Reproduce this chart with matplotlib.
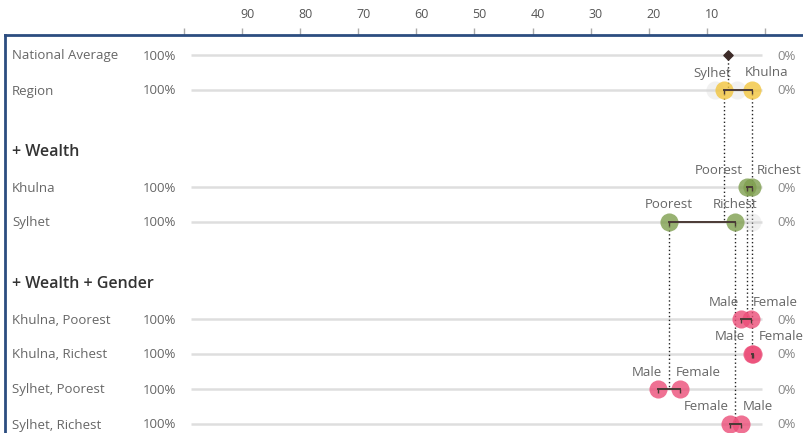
import matplotlib
matplotlib.use("Agg")
import matplotlib.pyplot as plt
from matplotlib.lines import Line2D
from matplotlib.transforms import ScaledTranslation

plt.rcParams['font.family'] = ['Open Sans', 'DejaVu Sans']

# ---- data (percent, axis runs 100 -> 0) ----
national_avg = 6.4

region_names = ["Sylhet", "Khulna"]
region_vals = [7.1, 2.3]

wealth_rows = ["Khulna", "Sylhet"]
wealth_names = ["Poorest", "Richest"]
wealth_vals = [[3.1, 2.2],
               [16.5, 5.2]]

gender_rows = ["Khulna, Poorest", "Khulna, Richest", "Sylhet, Poorest", "Sylhet, Richest"]
gender_names = [["Male", "Female"],
                ["Male", "Female"],
                ["Male", "Female"],
                ["Female", "Male"]]
gender_vals = [[4.1, 2.4],
               [2.3, 2.1],
               [18.5, 14.6],
               [6.0, 4.1]]

# faint leftover markers seen behind some rows
ghost_region = [8.6, 4.8]
ghost_sylhet_wealth = [2.2]

tick_vals = list(range(0, 101, 10))

# ---- colours ----
YELLOW = "#f2c53d"
GREEN = "#7f9f4f"
PINK = "#ec4d78"
DARK = "#3d2b28"
ROWLINE = "#dedede"
TXT = "#666666"
FRAME = "#2c4d80"

W, H = 804, 433
fig = plt.figure(figsize=(W / 100, H / 100), dpi=100)
x0, x1, top = 184, 765, 35
ax = fig.add_axes([x0 / W, 0, (x1 - x0) / W, (H - top) / H])
ax.set_xlim(100, 0)
ax.set_ylim(H, top)
for s in ax.spines.values():
    s.set_visible(False)
ax.set_yticks([])
ax.xaxis.tick_top()
ax.set_xticks(tick_vals)
ax.set_xticklabels(["" if v in (0, 100) else str(v) for v in tick_vals])
ax.tick_params(axis="x", direction="out", length=5, width=1, color="#aaaaaa",
               labelsize=9, labelcolor="#555555", pad=5)
shift = ScaledTranslation(5 / 100, 0, fig.dpi_scale_trans)
for lab in ax.get_xticklabels():
    lab.set_transform(lab.get_transform() + shift)

# frame (top + left)
fig.add_artist(Line2D([5 / W, 1], [1 - top / H, 1 - top / H], color=FRAME, lw=2))
fig.add_artist(Line2D([5 / W, 5 / W], [0, 1 - top / H], color=FRAME, lw=2))

# row layout (pixel rows)
y_nat, y_reg = 55, 90
y_wealth_head, y_wealth = 151, [187, 222]
y_gender_head, y_gender = 283, [319, 354, 389, 424]

row_names = ["National Average", "Region"] + wealth_rows + gender_rows
row_ys = [y_nat, y_reg] + y_wealth + y_gender

to_fig = lambda px, py: (px / W, 1 - py / H)

for name, y in zip(row_names, row_ys):
    ax.plot([98.8, 0.5], [y, y], color=ROWLINE, lw=1.8, zorder=1, solid_capstyle="butt")
    fig.text(*to_fig(12, y + 1), name, ha="left", va="center", fontsize=9.5, color=TXT)
    fig.text(*to_fig(176, y + 1), "100%", ha="right", va="center", fontsize=9.5, color=TXT)
    fig.text(*to_fig(777, y + 1), "0%", ha="left", va="center", fontsize=9.5, color="#888888")

for txt, y in [("+ Wealth", y_wealth_head), ("+ Wealth + Gender", y_gender_head)]:
    fig.text(*to_fig(12, y + 1), txt, ha="left", va="center", fontsize=11.5,
             fontweight="semibold", color="#333333")

# dotted drop lines from parent to child rows
def drop(v, ya, yb):
    ax.plot([v, v], [ya, yb], color="#222222", lw=1, ls=(0, (1, 1.8)), zorder=2)

drop(national_avg, y_nat, y_reg)
drop(region_vals[0], y_reg, y_wealth[1])
drop(region_vals[1], y_reg, y_wealth[0])
drop(wealth_vals[0][0], y_wealth[0], y_gender[0])
drop(wealth_vals[0][1], y_wealth[0], y_gender[1])
drop(wealth_vals[1][0], y_wealth[1], y_gender[2])
drop(wealth_vals[1][1], y_wealth[1], y_gender[3])

# ghosts
ax.scatter(ghost_region, [y_reg] * len(ghost_region), s=170, color="#d8d8d8",
           alpha=0.35, lw=0, zorder=2)
ax.scatter(ghost_sylhet_wealth, [y_wealth[1]] * len(ghost_sylhet_wealth), s=170,
           color="#d8d8d8", alpha=0.35, lw=0, zorder=2)

# national average diamond
ax.scatter([national_avg], [y_nat], marker="D", s=22, color=DARK, zorder=5)

renderer = fig.canvas.get_renderer()


def pair(vals, names, y, color):
    ax.scatter(vals, [y, y], s=170, color=color, alpha=0.8, lw=0, zorder=3)
    ax.plot(vals, [y, y], color="#4a3a36", lw=1.4, marker=3, ms=3, mew=1, zorder=4)
    # label the larger value (left side) first
    order = sorted(range(2), key=lambda i: -vals[i])
    lv, rv = vals[order[0]], vals[order[1]]
    ln, rn = names[order[0]], names[order[1]]
    ty = y - 17
    tl = ax.text(lv, ty, ln, ha="center", va="center", fontsize=9.5, color=TXT, zorder=6)
    tr = ax.text(rv, ty, rn, ha="center", va="center", fontsize=9.5, color=TXT, zorder=6)
    wl = tl.get_window_extent(renderer).width
    wr = tr.get_window_extent(renderer).width
    pl = ax.transData.transform((lv, ty))[0]
    pr = ax.transData.transform((rv, ty))[0]
    gap = 14
    if pl + wl / 2 + gap > pr - wr / 2:
        mid = (pl + pr) / 2
        inv = ax.transData.inverted()
        tl.set_x(inv.transform((mid - gap / 2, 0))[0])
        tl.set_ha("right")
        tr.set_x(inv.transform((mid + gap / 2, 0))[0])
        tr.set_ha("left")


pair(region_vals, region_names, y_reg, YELLOW)
for vals, y in zip(wealth_vals, y_wealth):
    pair(vals, wealth_names, y, GREEN)
for vals, names, y in zip(gender_vals, gender_names, y_gender):
    pair(vals, names, y, PINK)

fig.savefig("out.png", dpi=100)
